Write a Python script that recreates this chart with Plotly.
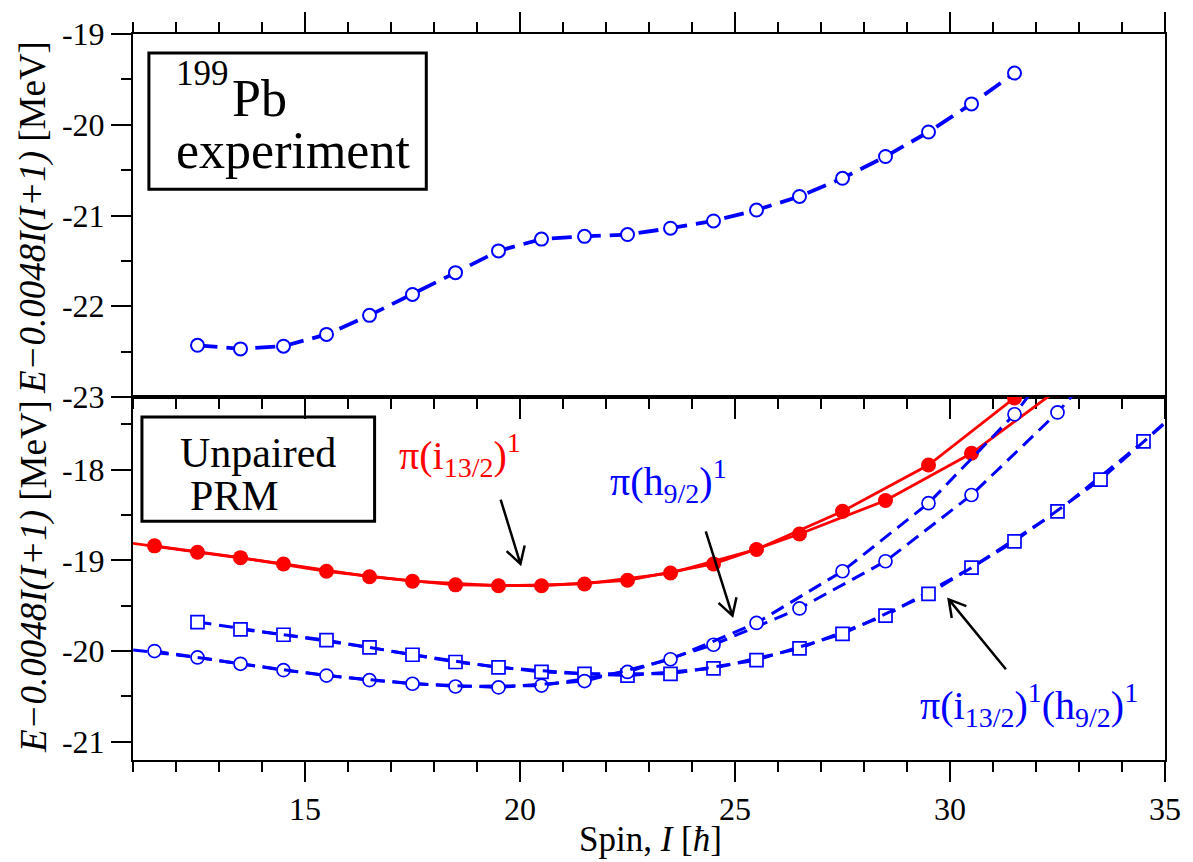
import math
import plotly.graph_objects as go
from plotly.subplots import make_subplots

# ---------------------------------------------------------------- data
# Experimental band of 199Pb (top panel)
spin_exp = [12.5, 13.5, 14.5, 15.5, 16.5, 17.5, 18.5, 19.5, 20.5, 21.5,
            22.5, 23.5, 24.5, 25.5, 26.5, 27.5, 28.5, 29.5, 30.5, 31.5]
e_exp = [-22.43, -22.47, -22.44, -22.31, -22.10, -21.87, -21.63, -21.39, -21.26, -21.23,
         -21.21, -21.14, -21.06, -20.94, -20.79, -20.59, -20.35, -20.08, -19.77, -19.43]

# Unpaired PRM: pi(i13/2)^1 band
spin_i13 = [10.5, 11.5, 12.5, 13.5, 14.5, 15.5, 16.5, 17.5, 18.5, 19.5, 20.5, 21.5,
            22.5, 23.5, 24.5, 25.5, 26.5, 27.5, 28.5, 29.5, 30.5, 31.5, 32.5]
e_i13 = [-18.78, -18.84, -18.91, -18.97, -19.04, -19.12, -19.18, -19.23, -19.27, -19.28,
         -19.28, -19.26, -19.22, -19.14, -19.04, -18.88, -18.71, -18.46, -18.34, -17.95,
         -17.82, -17.21, -17.12]

# Unpaired PRM: pi(h9/2)^1 band
spin_h9 = [10.5, 11.5, 12.5, 13.5, 14.5, 15.5, 16.5, 17.5, 18.5, 19.5, 20.5, 21.5, 22.5,
           23.5, 24.5, 25.5, 26.5, 27.5, 28.5, 29.5, 30.5, 31.5, 32.5, 33.5, 34.5]
e_h9 = [-19.96, -20.00, -20.07, -20.14, -20.21, -20.27, -20.32, -20.36, -20.39, -20.40,
        -20.38, -20.33, -20.23, -20.09, -19.93, -19.69, -19.53, -19.12, -19.01, -18.37,
        -18.28, -17.39, -17.37, -16.15, -16.30]

# Unpaired PRM: pi(i13/2)^1(h9/2)^1 band
spin_ih = [12.5, 13.5, 14.5, 15.5, 16.5, 17.5, 18.5, 19.5, 20.5, 21.5, 22.5, 23.5, 24.5,
           25.5, 26.5, 27.5, 28.5, 29.5, 30.5, 31.5, 32.5, 33.5, 34.5, 35.5, 36.5]
e_ih = [-19.68, -19.76, -19.82, -19.88, -19.96, -20.04, -20.12, -20.18, -20.23, -20.25,
        -20.27, -20.25, -20.19, -20.10, -19.97, -19.81, -19.61, -19.37, -19.08, -18.79,
        -18.46, -18.11, -17.69, -17.28, -16.85]

x_tick_vals = [15, 20, 25, 30, 35]
x_tick_text = ["15", "20", "25", "30", "35"]
y_top_vals = [-23, -22, -21, -20, -19]
y_top_text = ["-23", "-22", "-21", "-20", "-19"]
y_bot_vals = [-21, -20, -19, -18]
y_bot_text = ["-21", "-20", "-19", "-18"]

# ---------------------------------------------------------------- layout constants
W, H = 1193, 862
ML, MR, MT, MB = 133, 22, 30, 102
X_RANGE = [11, 35]
Y_TOP = [-23, -19]
Y_BOT = [-21.2, -17.2]
PW, PH = W - ML - MR, H - MT - MB
KX = PW / (X_RANGE[1] - X_RANGE[0])          # px per spin unit
KY = (PH / 2) / (Y_TOP[1] - Y_TOP[0])        # px per MeV

RED = "#ff0000"
BLUE = "#0000ff"
SERIF = "Liberation Serif, Times New Roman, serif"


def px(x):
    return (x - ML) / PW


def py(y):
    return (H - MB - y) / PH


fig = make_subplots(rows=2, cols=1, shared_xaxes=True, vertical_spacing=0)

# top panel: experiment
fig.add_trace(go.Scatter(
    x=spin_exp, y=e_exp, mode="lines+markers",
    line=dict(color=BLUE, width=3.8, dash="20px,9px"),
    marker=dict(symbol="circle", size=13, color="white", line=dict(color=BLUE, width=2)),
    showlegend=False), row=1, col=1)

# bottom panel: each band is drawn as its two signature partners (Delta I = 2)
red_style = dict(line=dict(color=RED, width=2.8),
                 marker=dict(symbol="circle", size=15, color=RED))
sq_style = dict(line=dict(color=BLUE, width=3, dash="14px,7.8px"),
                marker=dict(symbol="square", size=13, color="white",
                            line=dict(color=BLUE, width=1.7)))
ci_style = dict(line=dict(color=BLUE, width=3, dash="14px,7.8px"),
                marker=dict(symbol="circle", size=13, color="white",
                            line=dict(color=BLUE, width=1.7)))

for spins, vals, style in [(spin_i13, e_i13, red_style),
                           (spin_ih, e_ih, sq_style),
                           (spin_h9, e_h9, ci_style)]:
    for start in (0, 1):
        fig.add_trace(go.Scatter(
            x=spins[start::2], y=vals[start::2], mode="lines+markers",
            showlegend=False, **style), row=2, col=1)

# ---------------------------------------------------------------- axes
tick_font = dict(family=SERIF, size=32, color="black")
common_x = dict(range=X_RANGE, showgrid=False, zeroline=False, showline=True,
                linecolor="black", linewidth=2, ticks="outside", ticklen=20,
                tickwidth=2, tickcolor="black", tickmode="array", tickvals=x_tick_vals,
                minor=dict(tickmode="array", tickvals=list(range(11, 36)),
                           ticks="outside", ticklen=10, tickwidth=2, tickcolor="black"))
fig.update_xaxes(**common_x, mirror="ticks", showticklabels=False, row=1, col=1)
fig.update_xaxes(**common_x, mirror=True, ticktext=x_tick_text,
                 tickfont=tick_font, row=2, col=1)

common_y = dict(showgrid=False, zeroline=False, showline=True, linecolor="black",
                linewidth=2, mirror=True, ticks="outside", ticklen=20, tickwidth=2,
                tickcolor="black", tickmode="array", tickfont=tick_font)
fig.update_yaxes(**common_y, range=Y_TOP, tickvals=y_top_vals, ticktext=y_top_text,
                 minor=dict(tickmode="array",
                            tickvals=[-23 + 0.5 * k for k in range(9)],
                            ticks="outside", ticklen=10, tickwidth=2, tickcolor="black"),
                 row=1, col=1)
fig.update_yaxes(**common_y, range=Y_BOT, tickvals=y_bot_vals, ticktext=y_bot_text,
                 minor=dict(tickmode="array",
                            tickvals=[-21 + 0.5 * k for k in range(8)],
                            ticks="outside", ticklen=10, tickwidth=2, tickcolor="black"),
                 row=2, col=1)

# ---------------------------------------------------------------- decorations
shapes = []
for (x0, y0, x1, y1) in [(149, 49, 428, 186), (142, 415, 376, 520)]:
    shapes.append(dict(type="rect", xref="paper", yref="paper",
                       x0=px(x0), x1=px(x1), y0=py(y1), y1=py(y0),
                       line=dict(color="black", width=3), fillcolor="rgba(0,0,0,0)"))


def arrow_path(tail, tip, head_len=19.0, half_angle=30.0):
    X0, Y0 = tail[0] * KX, tail[1] * KY
    X1, Y1 = tip[0] * KX, tip[1] * KY
    n = math.hypot(X1 - X0, Y1 - Y0)
    ux, uy = (X1 - X0) / n, (Y1 - Y0) / n
    arms = []
    for sgn in (1, -1):
        a = math.radians(half_angle) * sgn
        rx = ux * math.cos(a) - uy * math.sin(a)
        ry = ux * math.sin(a) + uy * math.cos(a)
        arms.append(((X1 - head_len * rx) / KX, (Y1 - head_len * ry) / KY))
    return (f"M{tail[0]},{tail[1]} L{tip[0]},{tip[1]} "
            f"M{arms[0][0]},{arms[0][1]} L{tip[0]},{tip[1]} L{arms[1][0]},{arms[1][1]}")


arrows = [((19.55, -18.33), (20.01, -19.04)),
          ((24.32, -18.68), (24.94, -19.61)),
          ((31.30, -20.20), (29.97, -19.43))]
for tail, tip in arrows:
    shapes.append(dict(type="path", xref="x2", yref="y2", path=arrow_path(tail, tip),
                       line=dict(color="black", width=2.5)))

annotations = []


def text_px(txt, x, y, size, color="black", xanchor="left", angle=0):
    annotations.append(dict(text=txt, xref="paper", yref="paper", x=px(x), y=py(y),
                            xanchor=xanchor, yanchor="middle", showarrow=False,
                            textangle=angle,
                            font=dict(family=SERIF, size=size, color=color)))


def text_data(txt, x, y, size, color):
    annotations.append(dict(text=txt, xref="x2", yref="y2", x=x, y=y,
                            xanchor="left", yanchor="middle", showarrow=False,
                            font=dict(family=SERIF, size=size, color=color)))


# panel boxes
text_px("199", 174, 70, 35)
text_px("Pb", 231, 95, 52)
text_px("experiment", 174, 147, 52)
text_px("Unpaired", 178, 451, 42)
text_px("PRM", 188, 495, 42)

# band labels
text_data("π(i<sub>13/2</sub>)<sup>1</sup>", 17.15, -17.84, 40, RED)
text_data("π(h<sub>9/2</sub>)<sup>1</sup>", 22.05, -18.13, 40, BLUE)
text_data("π(i<sub>13/2</sub>)<sup>1</sup>(h<sub>9/2</sub>)<sup>1</sup>", 29.25, -20.59, 40, BLUE)

# axis titles
ytitle = "<i>E−0.0048I(I+1)</i> [MeV]"
text_px(ytitle, 33, (MT + MT + PH / 2) / 2 + 2, 37, angle=-90, xanchor="center")
text_px(ytitle, 33, (MT + PH / 2 + H - MB) / 2 - 2, 37, angle=-90, xanchor="center")
text_px("Spin, <i>I</i> [<i>ħ</i>]", 654, 840, 35, xanchor="center")

fig.update_layout(width=W, height=H, margin=dict(l=ML, r=MR, t=MT, b=MB),
                  paper_bgcolor="white", plot_bgcolor="white",
                  shapes=shapes, annotations=annotations,
                  font=dict(family=SERIF, color="black"))

fig.write_html("out.html")
